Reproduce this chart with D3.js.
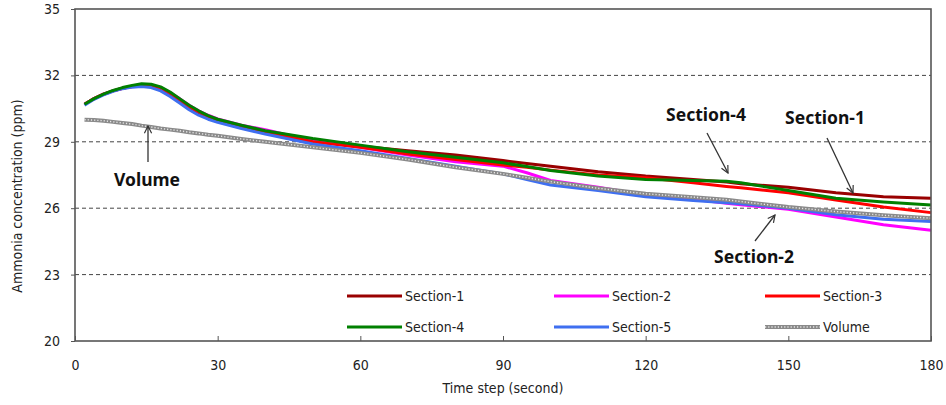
<!DOCTYPE html>
<html>
<head>
<meta charset="utf-8">
<script src="https://cdn.jsdelivr.net/npm/d3@7/dist/d3.min.js"></script>
<style>
  html, body { margin: 0; padding: 0; background: #fff; }
  svg { display: block; }
  .axis text, .legend text, .title { font-family: "Liberation Sans Narrow", "DejaVu Sans Condensed", "Arial Narrow", sans-serif; fill: #222; }
  .note { font-family: "Noto Sans", "DejaVu Sans", sans-serif; font-weight: bold; font-size: 17.5px; fill: #111; }
</style>
</head>
<body>
<svg id="chart" width="946" height="405"></svg>
<script>
// Time samples (second)
const time = [2, 4, 6, 8, 10, 12, 14, 16, 18, 20, 22, 24, 26, 28, 30, 35,
              40, 50, 60, 70, 80, 90, 95, 100, 110, 120, 130, 137, 140, 150, 160, 170, 180];

// Ammonia concentration (ppm) per section and for the whole volume
const section1 = [30.7, 30.95, 31.15, 31.3, 31.42, 31.5, 31.55, 31.52, 31.4, 31.15, 30.85, 30.55, 30.3, 30.1, 29.95, 29.7,
                  29.47, 29.1, 28.8, 28.6, 28.4, 28.15, 28.02, 27.9, 27.65, 27.45, 27.3, 27.18, 27.1, 26.95, 26.7, 26.52, 26.45];
const section2 = [30.7, 30.95, 31.15, 31.3, 31.42, 31.5, 31.55, 31.53, 31.45, 31.22, 30.95, 30.65, 30.4, 30.2, 30.03, 29.75,
                  29.55, 29.05, 28.75, 28.4, 28.1, 27.9, 27.6, 27.25, 26.95, 26.6, 26.4, 26.22, 26.15, 25.95, 25.6, 25.25, 25.0];
const section3 = [30.7, 30.95, 31.15, 31.3, 31.42, 31.5, 31.56, 31.54, 31.45, 31.2, 30.9, 30.6, 30.35, 30.15, 30.0, 29.72,
                  29.45, 29.0, 28.75, 28.45, 28.2, 27.95, 27.85, 27.72, 27.5, 27.38, 27.15, 26.98, 26.92, 26.7, 26.37, 26.05, 25.8];
const section4 = [30.7, 30.95, 31.15, 31.32, 31.45, 31.55, 31.62, 31.6, 31.48, 31.25, 30.95, 30.65, 30.4, 30.18, 30.02, 29.75,
                  29.5, 29.15, 28.85, 28.55, 28.3, 28.05, 27.88, 27.7, 27.45, 27.3, 27.25, 27.22, 27.15, 26.8, 26.45, 26.28, 26.15];
const section5 = [30.65, 30.92, 31.12, 31.28, 31.4, 31.47, 31.5, 31.45, 31.3, 31.05, 30.75, 30.45, 30.2, 30.02, 29.88, 29.6,
                  29.35, 28.9, 28.6, 28.25, 27.9, 27.55, 27.3, 27.05, 26.8, 26.52, 26.35, 26.25, 26.2, 26.0, 25.7, 25.5, 25.4];
const volume   = [30.0, 29.98, 29.95, 29.9, 29.85, 29.8, 29.73, 29.67, 29.6, 29.55, 29.5, 29.43, 29.38, 29.32, 29.27, 29.13,
                  29.0, 28.75, 28.5, 28.2, 27.85, 27.55, 27.38, 27.2, 26.9, 26.65, 26.5, 26.38, 26.3, 26.05, 25.85, 25.68, 25.55];

const seriesNames = ["Section-1", "Section-2", "Section-3", "Section-4", "Section-5", "Volume"];
const xTicks = [0, 30, 60, 90, 120, 150, 180];
const yTicks = [20, 23, 26, 29, 32, 35];
const gridValues = [23, 26, 29, 32];

const colors = {
  "Section-1": "#990000",
  "Section-2": "#ff00ff",
  "Section-3": "#ff0000",
  "Section-4": "#008000",
  "Section-5": "#3f6ff0",
  "Volume": "#8a8a8a"
};

const seriesData = {
  "Section-1": section1,
  "Section-2": section2,
  "Section-3": section3,
  "Section-4": section4,
  "Section-5": section5,
  "Volume": volume
};

const svg = d3.select("#chart");
const plot = { left: 75, right: 931, top: 9, bottom: 341 };

const x = d3.scaleLinear().domain([0, 180]).range([plot.left, plot.right]);
const y = d3.scaleLinear().domain([20, 35]).range([plot.bottom, plot.top]);

// Dashed horizontal grid lines
svg.append("g")
  .selectAll("line")
  .data(gridValues)
  .join("line")
  .attr("x1", plot.left).attr("x2", plot.right)
  .attr("y1", d => y(d)).attr("y2", d => y(d))
  .attr("stroke", "#444")
  .attr("stroke-width", 1)
  .attr("stroke-dasharray", "4,3");

// Left axis: outward ticks
const yAxis = svg.append("g")
  .attr("class", "axis")
  .attr("transform", `translate(${plot.left},0)`)
  .call(d3.axisLeft(y).tickValues(yTicks).tickSize(4).tickPadding(11).tickFormat(d3.format("d")));
yAxis.select(".domain").remove();
yAxis.selectAll("line").attr("stroke", "#555");
yAxis.selectAll("text").style("font-size", "14px");

// Bottom axis: inward ticks
const xAxis = svg.append("g")
  .attr("class", "axis")
  .attr("transform", `translate(0,${plot.bottom})`)
  .call(d3.axisBottom(x).tickValues(xTicks).tickSize(-5).tickPadding(19).tickFormat(d3.format("d")));
xAxis.select(".domain").remove();
xAxis.selectAll("line").attr("stroke", "#555");
xAxis.selectAll("text").style("font-size", "14px");

// Axis titles
svg.append("text")
  .attr("class", "title")
  .attr("x", (plot.left + plot.right) / 2)
  .attr("y", 393)
  .attr("text-anchor", "middle")
  .style("font-size", "14px")
  .text("Time step (second)");

svg.append("text")
  .attr("class", "title")
  .attr("transform", "translate(22,196) rotate(-90)")
  .attr("text-anchor", "middle")
  .style("font-size", "14px")
  .text("Ammonia concentration (ppm)");

// Series lines
const line = d3.line()
  .x((d, i) => x(time[i]))
  .y(d => y(d));

const drawOrder = ["Section-1", "Section-2", "Section-3", "Section-5", "Section-4", "Volume"];
const lines = svg.append("g");
drawOrder.forEach(name => {
  lines.append("path")
    .datum(seriesData[name])
    .attr("fill", "none")
    .attr("stroke", colors[name])
    .attr("stroke-width", name === "Volume" ? 4 : 3)
    .attr("stroke-linejoin", "round")
    .attr("d", line);
  if (name === "Volume") {
    // speckled texture on the volume curve
    lines.append("path")
      .datum(seriesData[name])
      .attr("fill", "none")
      .attr("stroke", "#e6e6e6")
      .attr("stroke-width", 1.4)
      .attr("stroke-dasharray", "1.2,2")
      .attr("d", line);
  }
});

// Plot frame
svg.append("rect")
  .attr("x", plot.left).attr("y", plot.top)
  .attr("width", plot.right - plot.left).attr("height", plot.bottom - plot.top)
  .attr("fill", "none")
  .attr("stroke", "#555")
  .attr("stroke-width", 1.6);

// Legend, two rows of three
const legendCols = [347, 554, 765];
const legendRows = [296, 327];
const legend = svg.append("g").attr("class", "legend");
seriesNames.forEach((name, i) => {
  const lx = legendCols[i % 3];
  const ly = legendRows[Math.floor(i / 3)];
  const g = legend.append("g").attr("transform", `translate(${lx},${ly})`);
  g.append("line")
    .attr("x1", 0).attr("x2", 55).attr("y1", 0).attr("y2", 0)
    .attr("stroke", colors[name])
    .attr("stroke-width", name === "Volume" ? 4 : 3);
  if (name === "Volume") {
    g.append("line")
      .attr("x1", 0).attr("x2", 55).attr("y1", 0).attr("y2", 0)
      .attr("stroke", "#e6e6e6")
      .attr("stroke-width", 1.4)
      .attr("stroke-dasharray", "1.2,2");
  }
  g.append("text")
    .attr("x", 58).attr("y", 0)
    .attr("dy", "0.35em")
    .style("font-size", "14px")
    .text(name);
});

// Call-out labels with arrows
const defs = svg.append("defs");
defs.append("marker")
  .attr("id", "arrowhead")
  .attr("viewBox", "0 0 10 10")
  .attr("refX", 9).attr("refY", 5)
  .attr("markerWidth", 9).attr("markerHeight", 9)
  .attr("markerUnits", "userSpaceOnUse")
  .attr("orient", "auto")
  .append("path")
  .attr("d", "M1,1 L9,5 L1,9")
  .attr("fill", "none")
  .attr("stroke", "#333")
  .attr("stroke-width", 1.3);

const notes = [
  { label: "Volume",    tx: 147, ty: 186, from: [148, 162], to: [148, 126] },
  { label: "Section-4", tx: 706, ty: 121, from: [707, 133], to: [728, 173] },
  { label: "Section-1", tx: 825, ty: 124, from: [827, 138], to: [853, 193] },
  { label: "Section-2", tx: 754, ty: 263, from: [755, 241], to: [775, 215] }
];
const noteG = svg.append("g");
notes.forEach(n => {
  noteG.append("line")
    .attr("x1", n.from[0]).attr("y1", n.from[1])
    .attr("x2", n.to[0]).attr("y2", n.to[1])
    .attr("stroke", "#333")
    .attr("stroke-width", 1.3)
    .attr("marker-end", "url(#arrowhead)");
  noteG.append("text")
    .attr("class", "note")
    .attr("x", n.tx).attr("y", n.ty)
    .attr("text-anchor", "middle")
    .text(n.label);
});
</script>
</body>
</html>
